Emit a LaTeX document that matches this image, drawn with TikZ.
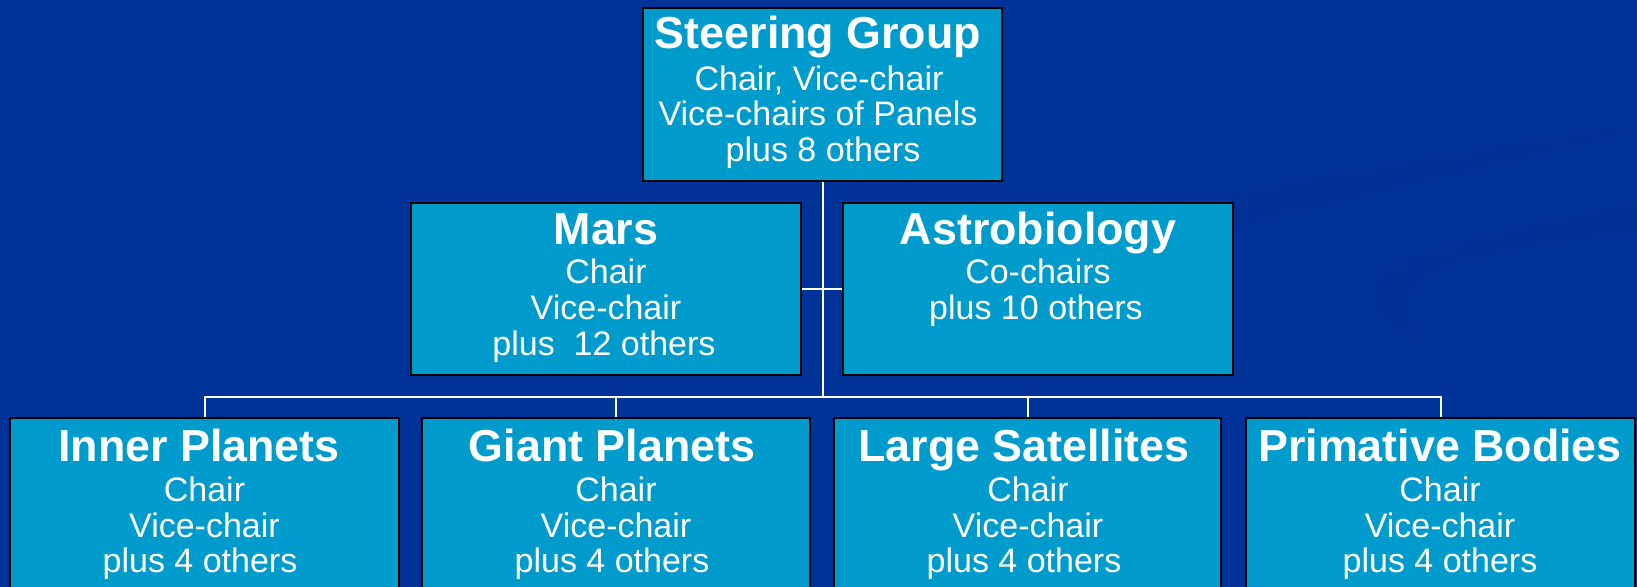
\documentclass[tikz,border=0pt]{standalone}
\usepackage{fontspec}
\setmainfont{Liberation Sans}
\definecolor{bgblue}{RGB}{0,51,153}
\definecolor{swoosh}{RGB}{0,49,148}
\definecolor{swoosh2}{RGB}{0,50,150}
\definecolor{boxfill}{RGB}{0,155,205}
\tikzset{
  orgbox/.style={draw=black, line width=0.8pt, fill=boxfill, inner sep=0pt, minimum height=86pt},
  ttl/.style={font=\fontsize{22.4}{26}\selectfont\bfseries, text=white, anchor=base, inner sep=0pt},
  bdy/.style={font=\fontsize{17}{20}\selectfont, text=white, anchor=base, inner sep=0pt},
  link/.style={draw=white, line width=1pt}
}
\begin{document}
\begin{tikzpicture}[x=0.5pt,y=-0.5pt]
\useasboundingbox (0,0) rectangle (1637,587);
\clip (0,0) rectangle (1637,587);
\fill[bgblue] (0,0) rectangle (1637,587);
% background swooshes
\fill[swoosh2] (1230,192) .. controls (1380,165) and (1500,145) .. (1622,125)
  -- (1626,135) .. controls (1500,165) and (1380,195) .. (1230,228) -- cycle;
\fill[swoosh] (1430,348) .. controls (1370,320) and (1340,280) .. (1420,255)
  .. controls (1500,230) and (1580,212) .. (1637,203)
  -- (1637,233) .. controls (1560,243) and (1470,255) .. (1430,275)
  .. controls (1400,292) and (1405,325) .. (1430,348) -- cycle;
% boxes
\node[orgbox, minimum width=179.5pt, minimum height=86.5pt] (sg) at (822.5,94.5) {};
\node[orgbox, minimum width=195pt] (mars) at (606,289) {};
\node[orgbox, minimum width=195pt] (astro) at (1038,289) {};
\node[orgbox, minimum width=194.5pt, minimum height=87pt] (inner) at (204.5,505) {};
\node[orgbox, minimum width=194pt, minimum height=87pt] (giant) at (616,505) {};
\node[orgbox, minimum width=193.5pt, minimum height=87pt] (large) at (1027.5,505) {};
\node[orgbox, minimum width=194.5pt, minimum height=87pt] (prim) at (1440.5,505) {};
\coordinate (bus) at (822.5,397);
% connectors
\draw[link] (sg.south) -- (sg.south |- bus);
\draw[link] (mars.east) -- (astro.west);
\draw[link] (inner.north) |- (prim.north |- bus) -- (prim.north);
\draw[link] (giant.north) -- (giant.north |- bus);
\draw[link] (large.north) -- (large.north |- bus);
% texts
\node[ttl] (sgT) at (818,49) {Steering Group};
\node[bdy] (sg1) at (819,91) {Chair, Vice-chair};
\node[bdy] (sg2) at (818,126) {Vice-chairs of Panels};
\node[bdy] (sg3) at (823,162) {plus 8 others};
\node[ttl] (marsT) at (606,245) {Mars};
\node[bdy] (mars1) at (606,284) {Chair};
\node[bdy] (mars2) at (606,320) {Vice-chair};
\node[bdy] (mars3) at (604,356) {plus\ \ 12 others};
\node[ttl] (astroT) at (1038,245) {Astrobiology};
\node[bdy] (astro1) at (1038,284) {Co-chairs};
\node[bdy] (astro2) at (1036,320) {plus 10 others};
\node[ttl] (innerT) at (199,461) {Inner Planets};
\node[bdy] (inner1) at (204.5,501) {Chair};
\node[bdy] (inner2) at (204.5,537) {Vice-chair};
\node[bdy] (inner3) at (200,572) {plus 4 others};
\node[ttl] (giantT) at (612,461) {Giant Planets};
\node[bdy] (giant1) at (616,501) {Chair};
\node[bdy] (giant2) at (616,537) {Vice-chair};
\node[bdy] (giant3) at (612,572) {plus 4 others};
\node[ttl] (largeT) at (1024,461) {Large Satellites};
\node[bdy] (large1) at (1028,501) {Chair};
\node[bdy] (large2) at (1028,537) {Vice-chair};
\node[bdy] (large3) at (1024,572) {plus 4 others};
\node[ttl] (primT) at (1440,461) {Primative Bodies};
\node[bdy] (prim1) at (1440,501) {Chair};
\node[bdy] (prim2) at (1440,537) {Vice-chair};
\node[bdy] (prim3) at (1440,572) {plus 4 others};
\end{tikzpicture}
\end{document}
